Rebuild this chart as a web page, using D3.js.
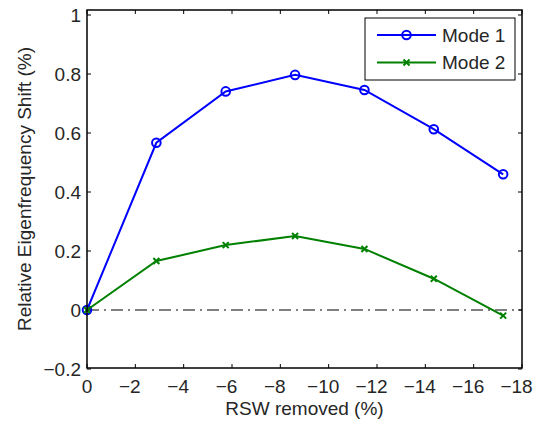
<!DOCTYPE html>
<html>
<head>
<meta charset="utf-8">
<script src="https://cdn.jsdelivr.net/npm/d3@7"></script>
<style>
  html, body { margin: 0; padding: 0; background: #fff; }
  svg text { font-family: "Liberation Sans", Arial, Helvetica, sans-serif; fill: #262626; }
</style>
</head>
<body>
<svg id="chart" width="534" height="426"></svg>
<script>
// RSW removed (%) at each measurement step
const rswRemoved = [0, -2.87, -5.74, -8.61, -11.48, -14.35, -17.22];
// Relative eigenfrequency shift (%) per mode
const mode1 = [0, 0.567, 0.741, 0.797, 0.746, 0.613, 0.460];
const mode2 = [0, 0.166, 0.220, 0.251, 0.207, 0.106, -0.019];
const seriesNames = ["Mode 1", "Mode 2"];
const xTicks = [0, -2, -4, -6, -8, -10, -12, -14, -16, -18];
const yTicks = [-0.2, 0, 0.2, 0.4, 0.6, 0.8, 1];

const svg = d3.select("#chart");
const plot = { left: 87, right: 522, top: 10, bottom: 368 };

const x = d3.scaleLinear().domain([0, -18]).range([plot.left, plot.right]);
const y = d3.scaleLinear().domain([-0.2, 1.017]).range([plot.bottom + 1, plot.top]);

const fmt = v => (v < 0 ? "\u2212" + Math.abs(v) : String(v));
const axisColor = "#000";

// tick marks pointing inward on all four sides
const g = svg.append("g");
xTicks.forEach(t => {
  g.append("line").attr("x1", x(t)).attr("x2", x(t))
    .attr("y1", plot.bottom).attr("y2", plot.bottom - 4)
    .attr("stroke", axisColor).attr("stroke-width", 1);
  g.append("line").attr("x1", x(t)).attr("x2", x(t))
    .attr("y1", plot.top).attr("y2", plot.top + 4)
    .attr("stroke", axisColor).attr("stroke-width", 1);
  // negative labels are centred on their digits' hyphen-width, so they sit a little left
  g.append("text").attr("x", x(t) - (t < 0 ? 5.5 : 0)).attr("y", 393)
    .attr("text-anchor", "middle").attr("font-size", 19).text(fmt(t));
});
yTicks.forEach(t => {
  g.append("line").attr("x1", plot.left).attr("x2", plot.left + 4)
    .attr("y1", y(t)).attr("y2", y(t))
    .attr("stroke", axisColor).attr("stroke-width", 1);
  g.append("line").attr("x1", plot.right).attr("x2", plot.right - 4)
    .attr("y1", y(t)).attr("y2", y(t))
    .attr("stroke", axisColor).attr("stroke-width", 1);
  g.append("text").attr("x", 81).attr("y", y(t)).attr("dy", "0.36em")
    .attr("text-anchor", "end").attr("font-size", 19).text(fmt(t));
});

// zero reference line
svg.append("line")
  .attr("x1", x(0)).attr("x2", x(-18))
  .attr("y1", y(0)).attr("y2", y(0))
  .attr("stroke", "#000").attr("stroke-width", 1.1)
  .attr("stroke-dasharray", "12,5,2,5");

const line = d3.line().x(d => x(d[0])).y(d => y(d[1]));
const colors = ["#0000ff", "#008000"];

function drawSeries(vals, color, marker) {
  const pts = rswRemoved.map((r, i) => [r, vals[i]]);
  svg.append("path").datum(pts).attr("d", line)
    .attr("fill", "none").attr("stroke", color).attr("stroke-width", 2);
  const m = svg.append("g");
  pts.forEach(p => drawMarker(m, x(p[0]), y(p[1]), color, marker));
}

function drawMarker(parent, cx, cy, color, marker) {
  if (marker === "o") {
    parent.append("circle").attr("cx", cx).attr("cy", cy).attr("r", 4.3)
      .attr("fill", "none").attr("stroke", color).attr("stroke-width", 2);
  } else {
    const s = 3;
    parent.append("path")
      .attr("d", `M${cx - s},${cy - s}L${cx + s},${cy + s}M${cx - s},${cy + s}L${cx + s},${cy - s}`)
      .attr("stroke", color).attr("stroke-width", 2).attr("fill", "none");
  }
}

drawSeries(mode1, colors[0], "o");
drawSeries(mode2, colors[1], "x");

// axes box
svg.append("rect")
  .attr("x", plot.left).attr("y", plot.top)
  .attr("width", plot.right - plot.left).attr("height", plot.bottom - plot.top)
  .attr("fill", "none").attr("stroke", "#000").attr("stroke-width", 1.5);

// axis titles
svg.append("text").attr("x", (plot.left + plot.right) / 2).attr("y", 415)
  .attr("text-anchor", "middle").attr("font-size", 19).text("RSW removed (%)");
svg.append("text")
  .attr("transform", `translate(31,${(plot.top + plot.bottom) / 2}) rotate(-90)`)
  .attr("text-anchor", "middle").attr("font-size", 19)
  .text("Relative Eigenfrequency Shift (%)");

// legend
const lg = svg.append("g");
lg.append("rect").attr("x", 365).attr("y", 18).attr("width", 150).attr("height", 62)
  .attr("fill", "#fff").attr("stroke", "#000").attr("stroke-width", 1);
const markers = ["o", "x"];
seriesNames.forEach((name, i) => {
  const ly = 35 + i * 27.5;
  lg.append("line").attr("x1", 377).attr("x2", 436).attr("y1", ly).attr("y2", ly)
    .attr("stroke", colors[i]).attr("stroke-width", 2);
  drawMarker(lg, 406.5, ly, colors[i], markers[i]);
  lg.append("text").attr("x", 442).attr("y", ly).attr("dy", "0.36em")
    .attr("font-size", 19).text(name);
});
</script>
</body>
</html>
